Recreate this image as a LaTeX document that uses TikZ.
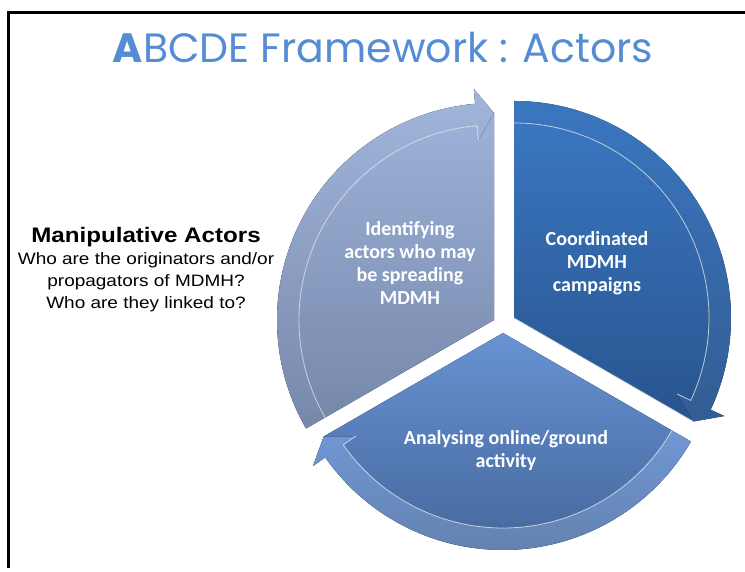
\documentclass[tikz,border=0pt]{standalone}
\usepackage{fontspec}
\setmainfont{Carlito}
\newfontfamily\titlefont{Poppins}
\newfontfamily\sidefont[FakeStretch=1.15]{Liberation Sans}
\definecolor{titleblue}{RGB}{84,141,212}
\definecolor{leftTop}{RGB}{157,178,218}
\definecolor{leftBot}{RGB}{118,136,170}
\definecolor{rightTop}{RGB}{58,118,192}
\definecolor{rightBot}{RGB}{40,84,142}
\definecolor{lowTop}{RGB}{104,146,210}
\definecolor{lowBot}{RGB}{72,108,162}
\tikzset{
  segtext/.style={text=white, font=\bfseries\fontsize{20}{23}\selectfont, align=center},
  glint/.style={draw=white, draw opacity=0.7, line width=0.8pt}
}
\begin{document}
\begin{tikzpicture}[x=1pt, y=1pt]
	\useasboundingbox (0,0) rectangle (745,572);
	\draw[line width=2.7pt, line join=miter] (8.7,4) -- (8.7,559.3) -- (745,559.3);
	\node[anchor=base, text=titleblue, font=\titlefont\fontsize{41}{44}\selectfont] (title) at (383,509) {\textbf{A}BCDE Framework : Actors};
	\node[align=center, font=\sidefont\fontsize{16.5}{22}\selectfont] (actors) at (146,302)
		{{\bfseries\fontsize{21}{22}\selectfont Manipulative Actors}\\Who are the originators and/or\\propagators of MDMH?\\Who are they linked to?};
	\begin{scope}[shift={(494,252)}]
		\fill[top color=leftTop, bottom color=leftBot] (0,0) -- (210:195) arc[start angle=210, end angle=95, radius=195] -- (90:207) -- cycle;
		\fill[top color=leftTop!95!white, bottom color=leftBot] (210:217) arc[start angle=210, end angle=95, radius=217] -- (95:232) -- (90:207) -- (95:180) -- (95:195) arc[start angle=95, end angle=210, radius=195] -- cycle;
		\draw[glint] (210:195) arc[start angle=210, end angle=95, radius=195] -- (95:180);
	\end{scope}
	\begin{scope}[shift={(514,254)}]
		\fill[top color=rightTop, bottom color=rightBot] (0,0) -- (90:195) arc[start angle=90, end angle=-25, radius=195] -- (-30:207) -- cycle;
		\fill[top color=rightTop, bottom color=rightBot!95!white] (90:217) arc[start angle=90, end angle=-25, radius=217] -- (-25:232) -- (-30:207) -- (-25:180) -- (-25:195) arc[start angle=-25, end angle=90, radius=195] -- cycle;
		\draw[glint] (90:195) arc[start angle=90, end angle=-25, radius=195] -- (-25:180);
		\draw[glint] (0,0) -- (-30:207);
	\end{scope}
	\begin{scope}[shift={(503,239)}]
		\fill[top color=lowTop, bottom color=lowBot] (0,0) -- (-30:195) arc[start angle=-30, end angle=-145, radius=195] -- (-150:207) -- cycle;
		\fill[top color=lowTop!95!white, bottom color=lowBot!85!white] (-30:217) arc[start angle=-30, end angle=-145, radius=217] -- (-145:232) -- (-150:207) -- (-145:180) -- (-145:195) arc[start angle=-145, end angle=-30, radius=195] -- cycle;
		\draw[glint] (-30:195) arc[start angle=-30, end angle=-145, radius=195] -- (-145:180);
	\end{scope}
	\node[segtext] (identify) at (410,309) {Identifying\\actors who may\\be spreading\\MDMH};
	\node[segtext] (coord) at (597,309) {Coordinated\\MDMH\\campaigns};
	\node[segtext] (analyse) at (506,121) {Analysing online/ground\\activity};
\end{tikzpicture}
\end{document}
